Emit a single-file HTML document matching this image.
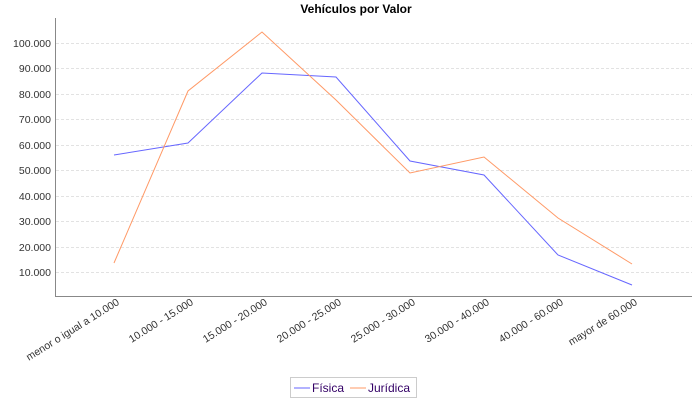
<!DOCTYPE html>
<html><head><meta charset="utf-8"><style>
body{margin:0;background:#fff;}
svg{display:block;font-family:"Liberation Sans",sans-serif;}
</style></head><body>
<svg width="700" height="400" viewBox="0 0 700 400">
<text x="356" y="13" font-size="12" font-weight="bold" text-anchor="middle">Vehículos por Valor</text>
<g stroke="#e2e2e2" stroke-dasharray="3,2" stroke-width="1">
<line x1="56" x2="692" y1="43.5" y2="43.5"/><line x1="56" x2="692" y1="68.5" y2="68.5"/>
<line x1="56" x2="692" y1="94.5" y2="94.5"/><line x1="56" x2="692" y1="119.5" y2="119.5"/>
<line x1="56" x2="692" y1="145.5" y2="145.5"/><line x1="56" x2="692" y1="170.5" y2="170.5"/>
<line x1="56" x2="692" y1="196.5" y2="196.5"/><line x1="56" x2="692" y1="221.5" y2="221.5"/>
<line x1="56" x2="692" y1="247.5" y2="247.5"/><line x1="56" x2="692" y1="272.5" y2="272.5"/>
</g>
<g stroke="#888" stroke-width="1"><line x1="55.5" y1="18" x2="55.5" y2="297"/><line x1="55" y1="296.5" x2="692" y2="296.5"/></g>
<g font-size="10.5" text-anchor="end" fill="#333">
<text x="51" y="47">100.000</text><text x="51" y="72">90.000</text><text x="51" y="98">80.000</text>
<text x="51" y="123">70.000</text><text x="51" y="149">60.000</text><text x="51" y="174">50.000</text>
<text x="51" y="200">40.000</text><text x="51" y="225">30.000</text><text x="51" y="251">20.000</text>
<text x="51" y="276">10.000</text>
</g>
<polyline fill="none" stroke="#6666ff" stroke-width="1" points="114,155 188,143 262,73 336,77 410,161 484,175 558,255 632,285"/>
<polyline fill="none" stroke="#ff9966" stroke-width="1" points="114,263 188,91 262,32 336,100 410,173 484,157 558,218 632,264"/>
<g font-size="10.5" text-anchor="end" fill="#333">
<text transform="translate(120,304) rotate(-32)">menor o igual a 10.000</text>
<text transform="translate(194,304) rotate(-32)">10.000 - 15.000</text>
<text transform="translate(268,304) rotate(-32)">15.000 - 20.000</text>
<text transform="translate(342,304) rotate(-32)">20.000 - 25.000</text>
<text transform="translate(416,304) rotate(-32)">25.000 - 30.000</text>
<text transform="translate(490,304) rotate(-32)">30.000 - 40.000</text>
<text transform="translate(564,304) rotate(-32)">40.000 - 60.000</text>
<text transform="translate(638,304) rotate(-32)">mayor de 60.000</text>
</g>
<rect x="290.5" y="377.5" width="126" height="20" fill="#fff" stroke="#ccc"/>
<line x1="294" x2="310" y1="388" y2="388" stroke="#6666ff"/>
<text x="312" y="392" font-size="12" fill="#330066">Física</text>
<line x1="350" x2="366" y1="388" y2="388" stroke="#ff9966"/>
<text x="368" y="392" font-size="12" fill="#330066">Jurídica</text>
</svg>
</body></html>
